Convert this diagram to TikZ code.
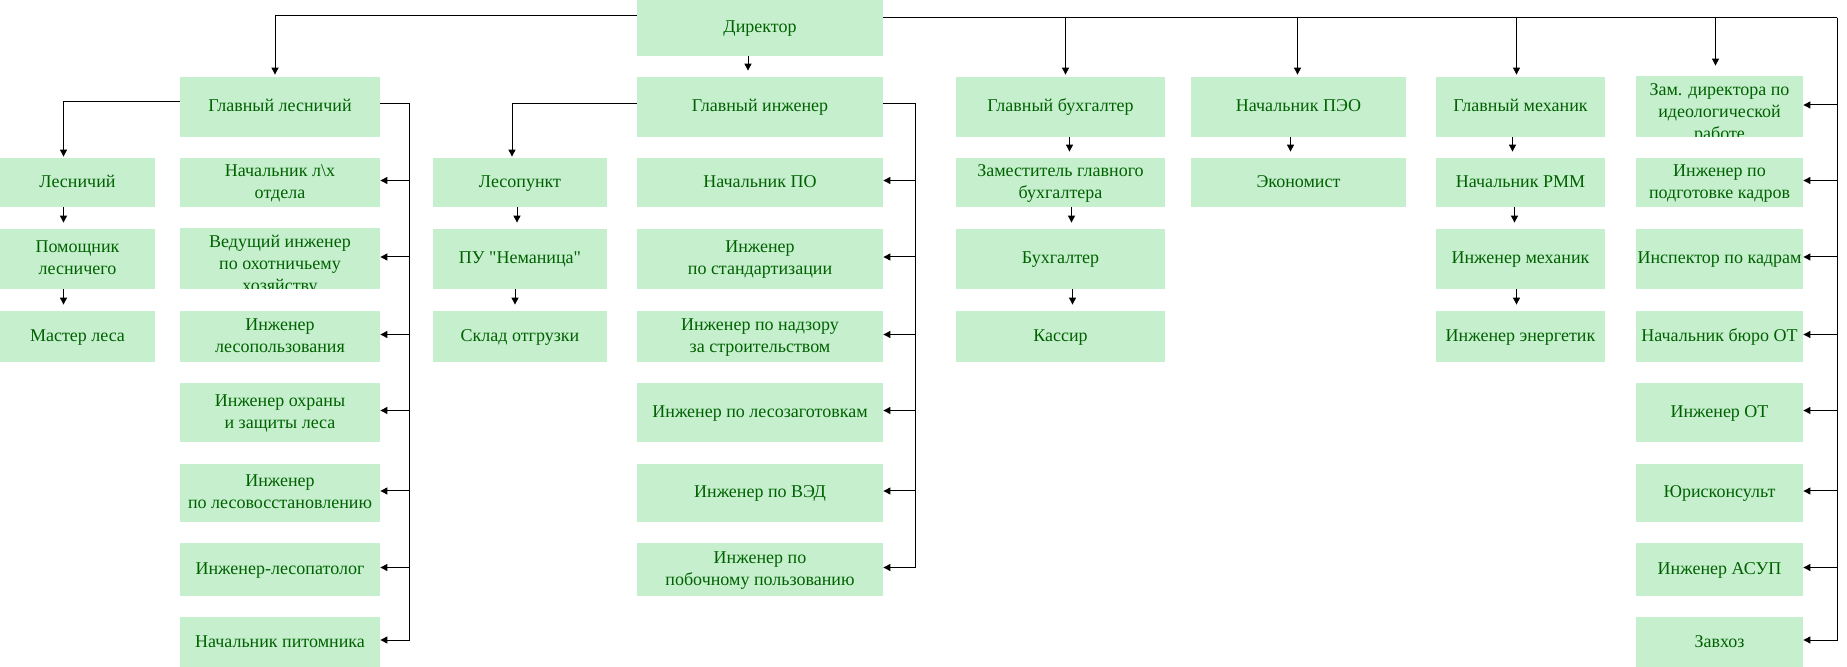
\documentclass[tikz,border=0pt]{standalone}
\usepackage{fontspec}
\setmainfont{Liberation Serif}[Ligatures=TeXOff]
\usetikzlibrary{arrows.meta,calc}
\definecolor{boxfill}{HTML}{C6EFCE}
\definecolor{boxtext}{HTML}{006100}
\newcommand\chainarr[3]{\draw[arr] ($(#1.south)+(#3,0)$) -- ($(#2.north)+(#3,-6)$);}
\newcommand\lnst{\vrule height 8pt depth 3pt width 0pt}
\newcommand\tallst{\vrule height 14pt depth 3pt width 0pt}
\begin{document}
\begin{tikzpicture}[x=0.5pt,y=-0.5pt,
  box/.style={fill=boxfill, text=boxtext, font=\fontsize{9}{11}\selectfont, align=center, inner sep=0pt},
  arr/.style={-{Triangle[length=3.5pt,width=3.5pt]}, line width=0.5pt},
  cA/.style={minimum width=77.5pt}, cB/.style={minimum width=100pt},
  cC/.style={minimum width=87pt}, cD/.style={minimum width=123pt},
  cE/.style={minimum width=104.5pt}, cF/.style={minimum width=107.5pt},
  cG/.style={minimum width=84.5pt}, cH/.style={minimum width=83.5pt},
  r0/.style={minimum height=28pt}, r1/.style={minimum height=30pt},
  r2/.style={minimum height=24.5pt}, r3/.style={minimum height=30pt},
  r4/.style={minimum height=25.5pt}, r5/.style={minimum height=29.5pt},
  r6/.style={minimum height=29pt}, r7/.style={minimum height=26.5pt},
  r8/.style={minimum height=25pt}]
\useasboundingbox[fill=white] (0,0) rectangle (1847,667);

% column A
\node[box,cA,r2] (les) at (77.5,182.5) {\lnst Лесничий};
\node[box,cA,r3] (pom) at (77.5,259) {\lnst Помощник\\\lnst лесничего};
\node[box,cA,r4] (mas) at (77.5,336.5) {\lnst Мастер леса};

% column B
\node[box,cB,r1] (gles) at (280,107) {\lnst Главный лесничий};
\node[box,cB,r2] (b2) at (280,182.5) {\lnst Начальник л\textbackslash х\\\lnst отдела};
\begin{scope}
\clip (180,229) rectangle (380,289);
\node[box,cB,r3] (b3) at (280,259) {\tallst Ведущий инженер\\\lnst по охотничьему\\\lnst хозяйству};
\end{scope}
\node[box,cB,r4] (b4) at (280,336.5) {\lnst Инженер\\\lnst лесопользования};
\node[box,cB,r5] (b5) at (280,412.5) {\lnst Инженер охраны\\\lnst и защиты леса};
\node[box,cB,r6] (b6) at (280,493) {\lnst Инженер\\\lnst по лесовосстановлению};
\node[box,cB,r7] (b7) at (280,569.5) {\lnst Инженер-лесопатолог};
\node[box,cB,r8] (b8) at (280,642) {\lnst Начальник питомника};

% column C
\node[box,cC,r2] (c2) at (520,182.5) {\lnst Лесопункт};
\node[box,cC,r3] (c3) at (520,259) {\lnst ПУ "Неманица"};
\node[box,cC,r4] (c4) at (520,336.5) {\lnst Склад отгрузки};

% column D
\node[box,cD,r0] (dir) at (760,28) {\lnst Директор};
\node[box,cD,r1] (gin) at (760,107) {\lnst Главный инженер};
\node[box,cD,r2] (d2) at (760,182.5) {\lnst Начальник ПО};
\node[box,cD,r3] (d3) at (760,259) {\lnst Инженер\\\lnst по стандартизации};
\node[box,cD,r4] (d4) at (760,336.5) {\lnst Инженер по надзору\\\lnst за строительством};
\node[box,cD,r5] (d5) at (760,412.5) {\lnst Инженер по лесозаготовкам};
\node[box,cD,r6] (d6) at (760,493) {\lnst Инженер по ВЭД};
\node[box,cD,r7] (d7) at (760,569.5) {\lnst Инженер по\\\lnst побочному пользованию};

% column E
\node[box,cE,r1] (e1) at (1060.5,107) {\lnst Главный бухгалтер};
\node[box,cE,r2] (e2) at (1060.5,182.5) {\lnst Заместитель главного\\\lnst бухгалтера};
\node[box,cE,r3] (e3) at (1060.5,259) {\lnst Бухгалтер};
\node[box,cE,r4] (e4) at (1060.5,336.5) {\lnst Кассир};

% column F
\node[box,cF,r1] (f1) at (1298.5,107) {\lnst Начальник ПЭО};
\node[box,cF,r2] (f2) at (1298.5,182.5) {\lnst Экономист};

% column G
\node[box,cG,r1] (g1) at (1520.5,107) {\lnst Главный механик};
\node[box,cG,r2] (g2) at (1520.5,182.5) {\lnst Начальник РММ};
\node[box,cG,r3] (g3) at (1520.5,259) {\lnst Инженер механик};
\node[box,cG,r4] (g4) at (1520.5,336.5) {\lnst Инженер энергетик};

% column H
\begin{scope}
\clip (1636,77) rectangle (1803,137);
\node[box,cH,r1] (h1) at (1719.5,107) {\tallst Зам. директора по\\\lnst идеологической\\\lnst работе};
\end{scope}
\node[box,cH,r2] (h2) at (1719.5,182.5) {\lnst Инженер по\\\lnst подготовке кадров};
\node[box,cH,r3] (h3) at (1719.5,259) {\lnst Инспектор по кадрам};
\node[box,cH,r4] (h4) at (1719.5,336.5) {\lnst Начальник бюро ОТ};
\node[box,cH,r5] (h5) at (1719.5,412.5) {\lnst Инженер ОТ};
\node[box,cH,r6] (h6) at (1719.5,493) {\lnst Юрисконсульт};
\node[box,cH,r7] (h7) at (1719.5,569.5) {\lnst Инженер АСУП};
\node[box,cH,r8] (h8) at (1719.5,642) {\lnst Завхоз};

% top connectors
\coordinate (rt) at (1837,18);
\draw[arr] ($(dir.west)+(0,-12)$) -| ($(gles.north)+(-5,-2)$);
\draw[line width=0.5pt] ($(dir.east)+(0,-10)$) -- (rt);
\foreach \n/\o in {e1/5, f1/-1, g1/-4, h1/-4}
  \draw[arr] ($(\n.north |- rt)+(\o,0)$) -- ($(\n.north)+(\o,-2)$);
\foreach \n in {h1,h2,h3,h4,h5,h6,h7,h8}
  \draw[arr] (rt) |- ($(\n.east)+(0,-2)$);

% brackets
\foreach \n in {b2,b3,b4,b5,b6,b7,b8}
  \draw[arr] ($(gles.east)+(0,-3)$) -- ++(29,0) |- ($(\n.east)+(0,-2)$);
\foreach \n in {d2,d3,d4,d5,d6,d7}
  \draw[arr] ($(gin.east)+(0,-3)$) -- ++(32,0) |- ($(\n.east)+(0,-2)$);

% left branches
\draw[arr] ($(gles.west)+(0,-5)$) -| ($(les.north)+(-14,-1)$);
\draw[arr] ($(gin.west)+(0,-3)$) -| ($(c2.north)+(-8,-1)$);

% chains
\chainarr{dir}{gin}{-12}
\chainarr{les}{pom}{-14}
\chainarr{pom}{mas}{-14}
\chainarr{c2}{c3}{-3}
\chainarr{c3}{c4}{-5}
\chainarr{e1}{e2}{9}
\chainarr{e2}{e3}{11}
\chainarr{e3}{e4}{12}
\chainarr{f1}{f2}{-8}
\chainarr{g1}{g2}{-8}
\chainarr{g2}{g3}{-6}
\chainarr{g3}{g4}{-4}
\end{tikzpicture}
\end{document}
